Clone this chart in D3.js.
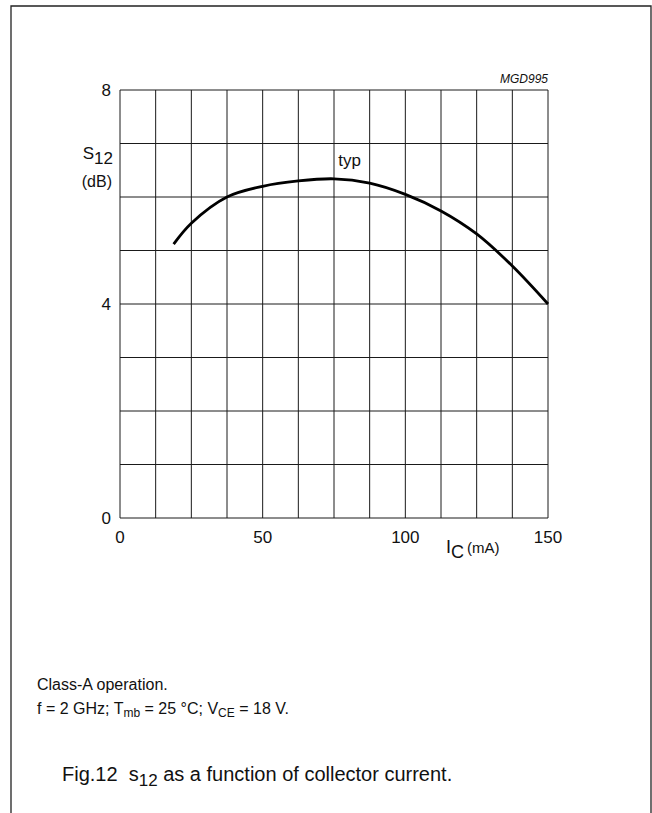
<!DOCTYPE html>
<html lang="en">
<head>
  <meta charset="UTF-8">
  <title>s12 as a function of collector current</title>
  <style>
    body {
      margin: 0;
      background: #fff;
    }
    svg text {
      font-family: Arial, "Liberation Sans", sans-serif;
      fill: #111;
    }
  </style>
  <script src="https://d3js.org/d3.v7.min.js"></script>
</head>
<body>
  <div id="chart"></div>

  <script>
    // values (IC in mA, s12 in dB)
    const currentMA = [18.8, 25, 37.5, 50, 62.5, 75, 87.5, 100, 112.5, 125, 137.5, 150];
    const s12dB = [5.12, 5.51, 6.0, 6.20, 6.30, 6.34, 6.26, 6.05, 5.74, 5.31, 4.71, 4.0];

    const xTickLabels = [0, 50, 100, 150];
    const yTickLabels = [0, 4, 8];
    const xGridStep = 12.5;
    const yGridStep = 1;

    const W = 652, H = 813;
    const plot = {left: 120, right: 548, top: 90, bottom: 518};

    const svg = d3.select("#chart")
      .append("svg")
      .attr("width", W)
      .attr("height", H);

    // outer frame (open at the bottom)
    svg.append("path")
      .attr("d", `M11,${H} L11,6 L651,6 L651,${H}`)
      .attr("fill", "none")
      .attr("stroke", "#222")
      .attr("stroke-width", 1.3);

    const x = d3.scaleLinear().domain([0, 150]).range([plot.left, plot.right]);
    const y = d3.scaleLinear().domain([0, 8]).range([plot.bottom, plot.top]);

    // grid
    const xGrid = d3.range(0, 150 + 0.001, xGridStep);
    const yGrid = d3.range(0, 8 + 0.001, yGridStep);

    svg.append("g")
      .selectAll("line")
      .data(xGrid)
      .enter()
      .append("line")
      .attr("x1", d => x(d)).attr("x2", d => x(d))
      .attr("y1", y(0)).attr("y2", y(8))
      .attr("stroke", "#1a1a1a")
      .attr("stroke-width", 1);

    svg.append("g")
      .selectAll("line")
      .data(yGrid)
      .enter()
      .append("line")
      .attr("x1", x(0)).attr("x2", x(150))
      .attr("y1", d => y(d)).attr("y2", d => y(d))
      .attr("stroke", "#1a1a1a")
      .attr("stroke-width", 1);

    // tick labels
    svg.append("g")
      .selectAll("text")
      .data(xTickLabels)
      .enter()
      .append("text")
      .attr("x", d => x(d))
      .attr("y", plot.bottom + 25)
      .attr("text-anchor", "middle")
      .style("font-size", "17px")
      .text(d => d);

    svg.append("g")
      .selectAll("text")
      .data(yTickLabels)
      .enter()
      .append("text")
      .attr("x", plot.left - 9)
      .attr("y", d => y(d) + 6)
      .attr("text-anchor", "end")
      .style("font-size", "17px")
      .text(d => d);

    // curve
    const pts = currentMA.map((c, i) => [c, s12dB[i]]);
    const line = d3.line()
      .x(d => x(d[0]))
      .y(d => y(d[1]))
      .curve(d3.curveBasis);

    svg.append("path")
      .datum(pts)
      .attr("d", d3.line()
        .x(d => x(d[0]))
        .y(d => y(d[1]))
        .curve(d3.curveCatmullRom.alpha(0.5)))
      .attr("fill", "none")
      .attr("stroke", "#000")
      .attr("stroke-width", 2.8);

    svg.append("text")
      .attr("x", x(76.5))
      .attr("y", y(6.34) - 13)
      .style("font-size", "17px")
      .text("typ");

    // figure code
    svg.append("text")
      .attr("x", plot.right)
      .attr("y", plot.top - 7)
      .attr("text-anchor", "end")
      .style("font-size", "12px")
      .style("font-style", "italic")
      .text("MGD995");

    // y axis title
    const yt = svg.append("text")
      .attr("x", 113)
      .attr("y", 159)
      .attr("text-anchor", "end")
      .style("font-size", "17px");
    yt.append("tspan").text("S");
    yt.append("tspan").attr("dy", 5).text("12");

    svg.append("text")
      .attr("x", 112)
      .attr("y", 187)
      .attr("text-anchor", "end")
      .style("font-size", "16px")
      .text("(dB)");

    // x axis title
    const xt = svg.append("text")
      .attr("x", 446)
      .attr("y", 553)
      .style("font-size", "18px");
    xt.append("tspan").text("I");
    xt.append("tspan").attr("dy", 5).text("C");
    xt.append("tspan").attr("dy", -5).attr("dx", 3).style("font-size", "15px").text("(mA)");

    // notes
    svg.append("text")
      .attr("x", 37)
      .attr("y", 690)
      .style("font-size", "16px")
      .text("Class-A operation.");

    const note = svg.append("text")
      .attr("x", 37)
      .attr("y", 714)
      .style("font-size", "16px");
    note.append("tspan").text("f = 2 GHz; T");
    note.append("tspan").attr("dy", 3).style("font-size", "12px").text("mb");
    note.append("tspan").attr("dy", -3).text(" = 25 \u00B0C; V");
    note.append("tspan").attr("dy", 3).style("font-size", "12px").text("CE");
    note.append("tspan").attr("dy", -3).text(" = 18 V.");

    const cap = svg.append("text")
      .attr("x", 62)
      .attr("y", 781)
      .style("font-size", "20px");
    cap.append("tspan").text("Fig.12\u00A0\u00A0s");
    cap.append("tspan").attr("dy", 5).style("font-size", "17px").text("12");
    cap.append("tspan").attr("dy", -5).text(" as a function of collector current.");
  </script>
</body>
</html>
